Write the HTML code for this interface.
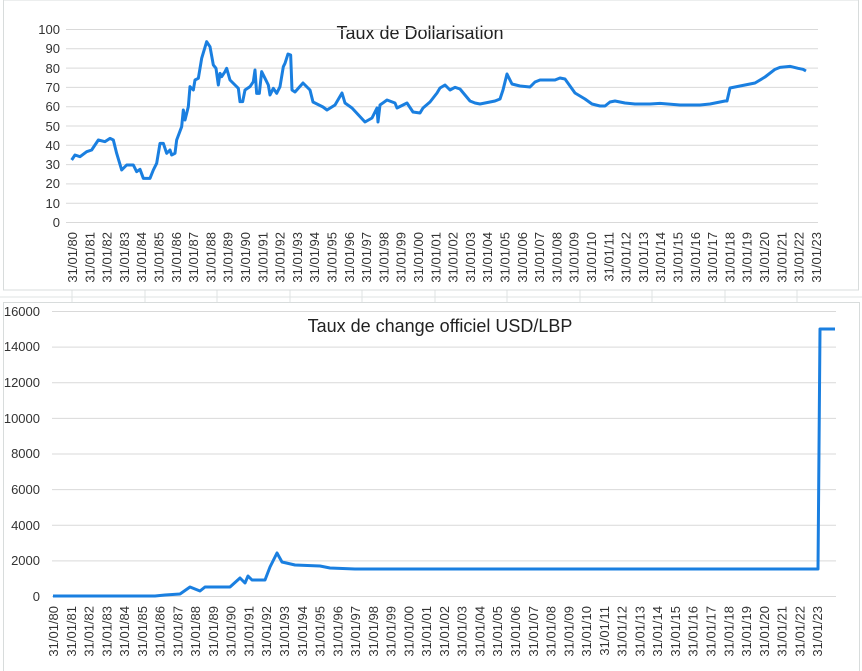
<!DOCTYPE html>
<html><head><meta charset="utf-8"><style>
html,body{margin:0;padding:0;background:#fff;}
svg{display:block;font-family:"Liberation Sans",sans-serif;}
</style></head><body>
<svg width="862" height="671" viewBox="0 0 862 671" xmlns="http://www.w3.org/2000/svg">
<g stroke="#dfe3e3" stroke-width="1">
<line x1="0" y1="297" x2="862" y2="297"/>
<line x1="72" y1="290" x2="72" y2="302"/><line x1="145" y1="290" x2="145" y2="302"/><line x1="217" y1="290" x2="217" y2="302"/><line x1="290" y1="290" x2="290" y2="302"/><line x1="362" y1="290" x2="362" y2="302"/><line x1="435" y1="290" x2="435" y2="302"/><line x1="507" y1="290" x2="507" y2="302"/><line x1="580" y1="290" x2="580" y2="302"/><line x1="652" y1="290" x2="652" y2="302"/><line x1="725" y1="290" x2="725" y2="302"/><line x1="797" y1="290" x2="797" y2="302"/>
</g>
<rect x="3.5" y="0" width="855" height="290" fill="#fff" stroke="#d8dcdc"/>
<rect x="3.5" y="302.5" width="856" height="370" fill="#fff" stroke="#d8dcdc"/>

<text x="420" y="39" font-size="18" text-anchor="middle" fill="#222">Taux de Dollarisation</text>
<g stroke="#d9d9d9" stroke-width="1">
<line x1="66" y1="222.5" x2="818" y2="222.5"/><line x1="66" y1="203.2" x2="818" y2="203.2"/><line x1="66" y1="183.9" x2="818" y2="183.9"/><line x1="66" y1="164.6" x2="818" y2="164.6"/><line x1="66" y1="145.3" x2="818" y2="145.3"/><line x1="66" y1="126" x2="818" y2="126"/><line x1="66" y1="106.7" x2="818" y2="106.7"/><line x1="66" y1="87.4" x2="818" y2="87.4"/><line x1="66" y1="68.1" x2="818" y2="68.1"/><line x1="66" y1="48.8" x2="818" y2="48.8"/><line x1="66" y1="29.5" x2="818" y2="29.5"/>
</g>
<g font-size="13" fill="#333" text-anchor="end">
<text x="60" y="227">0</text><text x="60" y="208">10</text><text x="60" y="188">20</text><text x="60" y="169">30</text><text x="60" y="150">40</text><text x="60" y="131">50</text><text x="60" y="111">60</text><text x="60" y="92">70</text><text x="60" y="73">80</text><text x="60" y="53">90</text><text x="60" y="34">100</text>
</g>
<g transform="scale(0.33333)">
<polyline fill="none" stroke="#1a7fe0" stroke-width="9" stroke-linejoin="round" points="215,480 225,465 240,470 260,455 275,450 295,420 315,425 330,415 340,420 350,460 365,510 380,495 400,495 410,515 420,508 430,535 450,535 460,510 470,490 480,430 490,430 500,460 510,450 515,465 525,460 530,420 545,380 550,330 555,360 565,320 570,260 580,270 585,240 595,235 605,175 620,125 630,140 640,195 648,205 655,255 660,220 665,230 675,215 680,205 690,240 705,255 715,265 720,305 728,305 735,270 750,260 760,245 765,210 770,280 778,280 785,215 795,235 805,255 810,285 820,265 830,280 840,260 850,200 855,190 864,162 872,165 876,270 885,276 909,249 930,270 939,306 969,321 981,330 1005,315 1026,279 1035,309 1056,324 1095,366 1116,354 1131,324 1134,366 1140,315 1161,300 1185,309 1191,324 1221,309 1239,336 1260,339 1269,324 1290,306 1311,279 1320,264 1335,255 1350,270 1365,262 1380,267 1395,285 1410,303 1425,309 1440,312 1470,306 1485,303 1500,297 1509,270 1521,222 1536,252 1560,258 1590,261 1605,246 1620,240 1665,240 1680,234 1695,237 1725,279 1755,297 1776,312 1800,318 1815,318 1830,306 1845,303 1875,309 1905,312 1950,312 1980,310 2040,315 2100,315 2130,312 2175,303 2181,303 2190,264 2220,258 2235,255 2265,249 2295,231 2325,208 2340,202 2370,199 2394,205 2409,208 2418,213"/>
</g>
<g font-size="13" fill="#333" text-anchor="end">
<text transform="translate(77,232) rotate(-90)">31/01/80</text><text transform="translate(94.3,232) rotate(-90)">31/01/81</text><text transform="translate(111.6,232) rotate(-90)">31/01/82</text><text transform="translate(128.9,232) rotate(-90)">31/01/83</text><text transform="translate(146.2,232) rotate(-90)">31/01/84</text><text transform="translate(163.5,232) rotate(-90)">31/01/85</text><text transform="translate(180.8,232) rotate(-90)">31/01/86</text><text transform="translate(198.1,232) rotate(-90)">31/01/87</text><text transform="translate(215.4,232) rotate(-90)">31/01/88</text><text transform="translate(232.7,232) rotate(-90)">31/01/89</text><text transform="translate(250,232) rotate(-90)">31/01/90</text><text transform="translate(267.3,232) rotate(-90)">31/01/91</text><text transform="translate(284.6,232) rotate(-90)">31/01/92</text><text transform="translate(301.9,232) rotate(-90)">31/01/93</text><text transform="translate(319.2,232) rotate(-90)">31/01/94</text><text transform="translate(336.5,232) rotate(-90)">31/01/95</text><text transform="translate(353.8,232) rotate(-90)">31/01/96</text><text transform="translate(371.1,232) rotate(-90)">31/01/97</text><text transform="translate(388.4,232) rotate(-90)">31/01/98</text><text transform="translate(405.7,232) rotate(-90)">31/01/99</text><text transform="translate(423,232) rotate(-90)">31/01/00</text><text transform="translate(440.3,232) rotate(-90)">31/01/01</text><text transform="translate(457.6,232) rotate(-90)">31/01/02</text><text transform="translate(474.9,232) rotate(-90)">31/01/03</text><text transform="translate(492.2,232) rotate(-90)">31/01/04</text><text transform="translate(509.5,232) rotate(-90)">31/01/05</text><text transform="translate(526.8,232) rotate(-90)">31/01/06</text><text transform="translate(544.1,232) rotate(-90)">31/01/07</text><text transform="translate(561.4,232) rotate(-90)">31/01/08</text><text transform="translate(578.7,232) rotate(-90)">31/01/09</text><text transform="translate(596,232) rotate(-90)">31/01/10</text><text transform="translate(613.3,232) rotate(-90)">31/01/11</text><text transform="translate(630.6,232) rotate(-90)">31/01/12</text><text transform="translate(647.9,232) rotate(-90)">31/01/13</text><text transform="translate(665.2,232) rotate(-90)">31/01/14</text><text transform="translate(682.5,232) rotate(-90)">31/01/15</text><text transform="translate(699.8,232) rotate(-90)">31/01/16</text><text transform="translate(717.1,232) rotate(-90)">31/01/17</text><text transform="translate(734.4,232) rotate(-90)">31/01/18</text><text transform="translate(751.7,232) rotate(-90)">31/01/19</text><text transform="translate(769,232) rotate(-90)">31/01/20</text><text transform="translate(786.3,232) rotate(-90)">31/01/21</text><text transform="translate(803.6,232) rotate(-90)">31/01/22</text><text transform="translate(820.9,232) rotate(-90)">31/01/23</text>
</g>

<text x="440" y="332" font-size="18" text-anchor="middle" fill="#222">Taux de change officiel USD/LBP</text>
<g stroke="#d9d9d9" stroke-width="1">
<line x1="52" y1="596.5" x2="836" y2="596.5"/><line x1="52" y1="560.9" x2="836" y2="560.9"/><line x1="52" y1="525.3" x2="836" y2="525.3"/><line x1="52" y1="489.6" x2="836" y2="489.6"/><line x1="52" y1="454" x2="836" y2="454"/><line x1="52" y1="418.4" x2="836" y2="418.4"/><line x1="52" y1="382.8" x2="836" y2="382.8"/><line x1="52" y1="347.1" x2="836" y2="347.1"/><line x1="52" y1="311.5" x2="836" y2="311.5"/>
</g>
<g font-size="13" fill="#333" text-anchor="end">
<text x="40" y="601">0</text><text x="40" y="565">2000</text><text x="40" y="530">4000</text><text x="40" y="494">6000</text><text x="40" y="458">8000</text><text x="40" y="423">10000</text><text x="40" y="387">12000</text><text x="40" y="351">14000</text><text x="40" y="316">16000</text>
</g>
<polyline fill="none" stroke="#1a7fe0" stroke-width="3" stroke-linejoin="round" points="53,596 155,596 165,595 180,594 190,587 195,589 200,591 205,587 230,587 240,578 245,583 248,576 252,580 265,580 270,567 277,553 282,562 295,565 320,566 330,568 355,569 818,569 820,329 835,329"/>
<g font-size="13" fill="#333" text-anchor="end">
<text transform="translate(58,606) rotate(-90)">31/01/80</text><text transform="translate(75.8,606) rotate(-90)">31/01/81</text><text transform="translate(93.5,606) rotate(-90)">31/01/82</text><text transform="translate(111.3,606) rotate(-90)">31/01/83</text><text transform="translate(129.1,606) rotate(-90)">31/01/84</text><text transform="translate(146.8,606) rotate(-90)">31/01/85</text><text transform="translate(164.6,606) rotate(-90)">31/01/86</text><text transform="translate(182.4,606) rotate(-90)">31/01/87</text><text transform="translate(200.2,606) rotate(-90)">31/01/88</text><text transform="translate(217.9,606) rotate(-90)">31/01/89</text><text transform="translate(235.7,606) rotate(-90)">31/01/90</text><text transform="translate(253.5,606) rotate(-90)">31/01/91</text><text transform="translate(271.2,606) rotate(-90)">31/01/92</text><text transform="translate(289,606) rotate(-90)">31/01/93</text><text transform="translate(306.8,606) rotate(-90)">31/01/94</text><text transform="translate(324.5,606) rotate(-90)">31/01/95</text><text transform="translate(342.3,606) rotate(-90)">31/01/96</text><text transform="translate(360.1,606) rotate(-90)">31/01/97</text><text transform="translate(377.9,606) rotate(-90)">31/01/98</text><text transform="translate(395.6,606) rotate(-90)">31/01/99</text><text transform="translate(413.4,606) rotate(-90)">31/01/00</text><text transform="translate(431.2,606) rotate(-90)">31/01/01</text><text transform="translate(448.9,606) rotate(-90)">31/01/02</text><text transform="translate(466.7,606) rotate(-90)">31/01/03</text><text transform="translate(484.5,606) rotate(-90)">31/01/04</text><text transform="translate(502.2,606) rotate(-90)">31/01/05</text><text transform="translate(520,606) rotate(-90)">31/01/06</text><text transform="translate(537.8,606) rotate(-90)">31/01/07</text><text transform="translate(555.6,606) rotate(-90)">31/01/08</text><text transform="translate(573.3,606) rotate(-90)">31/01/09</text><text transform="translate(591.1,606) rotate(-90)">31/01/10</text><text transform="translate(608.9,606) rotate(-90)">31/01/11</text><text transform="translate(626.6,606) rotate(-90)">31/01/12</text><text transform="translate(644.4,606) rotate(-90)">31/01/13</text><text transform="translate(662.2,606) rotate(-90)">31/01/14</text><text transform="translate(679.9,606) rotate(-90)">31/01/15</text><text transform="translate(697.7,606) rotate(-90)">31/01/16</text><text transform="translate(715.5,606) rotate(-90)">31/01/17</text><text transform="translate(733.3,606) rotate(-90)">31/01/18</text><text transform="translate(751,606) rotate(-90)">31/01/19</text><text transform="translate(768.8,606) rotate(-90)">31/01/20</text><text transform="translate(786.6,606) rotate(-90)">31/01/21</text><text transform="translate(804.3,606) rotate(-90)">31/01/22</text><text transform="translate(822.1,606) rotate(-90)">31/01/23</text>
</g>
</svg>
</body></html>
